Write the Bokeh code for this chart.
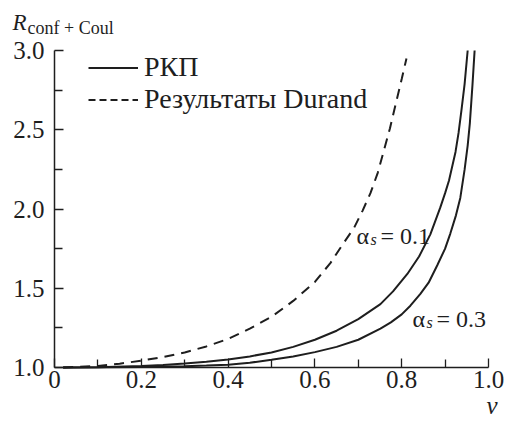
import numpy as np
from bokeh.plotting import figure
from bokeh.models import Range1d, Label, Legend, LegendItem, FixedTicker, CustomJSTickFormatter
from bokeh.embed import file_html
from bokeh.resources import INLINE

# Data
v_durand = [0.02, 0.1, 0.15, 0.2, 0.25, 0.3, 0.35, 0.4, 0.45, 0.5, 0.55, 0.6, 0.636, 0.66, 0.69,
            0.71, 0.728, 0.745, 0.759, 0.773, 0.786, 0.8, 0.811]
r_durand = [1.0, 1.01, 1.024, 1.043, 1.066, 1.095, 1.133, 1.18, 1.245, 1.32, 1.42, 1.54, 1.66, 1.76, 1.88,
            1.99, 2.10, 2.23, 2.37, 2.51, 2.66, 2.82, 2.95]

v_a01 = [0.02, 0.1, 0.2, 0.25, 0.3, 0.35, 0.4, 0.45, 0.5, 0.55, 0.6, 0.65, 0.7, 0.751, 0.78, 0.813,
         0.84, 0.866, 0.889, 0.9, 0.909, 0.924, 0.931, 0.938, 0.945, 0.952]
r_a01 = [1.0, 1.002, 1.009, 1.016, 1.025, 1.036, 1.05, 1.07, 1.095, 1.13, 1.175, 1.232, 1.305, 1.40, 1.48, 1.59,
         1.70, 1.84, 2.01, 2.10, 2.18, 2.36, 2.48, 2.63, 2.79, 3.0]

v_a03 = [0.02, 0.1, 0.2, 0.3, 0.35, 0.4, 0.45, 0.5, 0.55, 0.6, 0.65, 0.7, 0.751, 0.775, 0.8, 0.82,
         0.843, 0.862, 0.882, 0.9, 0.912, 0.925, 0.935, 0.945, 0.952, 0.957, 0.963, 0.968]
r_a03 = [1.0, 1.001, 1.003, 1.008, 1.012, 1.018, 1.03, 1.049, 1.07, 1.097, 1.13, 1.175, 1.245, 1.285, 1.335, 1.39,
         1.465, 1.535, 1.645, 1.75, 1.845, 1.96, 2.07, 2.25, 2.40, 2.54, 2.78, 3.0]

x_ticks = [0, 0.2, 0.4, 0.6, 0.8, 1.0]
x_minor = [0.1, 0.3, 0.5, 0.7, 0.9]
y_ticks = [1.0, 1.5, 2.0, 2.5, 3.0]
y_minor = [1.25, 1.75, 2.25, 2.75]

FONT = "Liberation Serif"
INK = "#1e1e1e"

# canvas geometry (pixels)
W, H = 513, 421
X0, X1 = 54, 488      # pixel of v = 0 and v = 1
Y1, Y3 = 367, 50      # pixel of R = 1 and R = 3
sx = (X1 - X0) / 1.0
sy = (Y1 - Y3) / 2.0

p = figure(width=W, height=H,
           x_range=Range1d(-X0 / sx, (W - X0) / sx),
           y_range=Range1d(1 - (H - Y1) / sy, 1 + Y1 / sy),
           output_backend="svg", toolbar_location=None,
           min_border=0, min_border_left=0, min_border_right=0,
           min_border_top=0, min_border_bottom=0)
p.xgrid.grid_line_color = None
p.ygrid.grid_line_color = None
p.outline_line_color = None
p.background_fill_color = "white"
p.border_fill_color = "white"

xa, ya = p.xaxis[0], p.yaxis[0]
xa.fixed_location = 1.0
ya.fixed_location = 0.0
xa.bounds = (0, 1.0)
ya.bounds = (1.0, 3.0)
for ax, ticks, minor in ((xa, x_ticks, x_minor), (ya, y_ticks, y_minor)):
    ax.ticker = FixedTicker(ticks=ticks, minor_ticks=minor)
    ax.axis_line_color = INK
    ax.axis_line_width = 1.5
    ax.major_tick_in = 9
    ax.major_tick_out = 0
    ax.minor_tick_in = 8
    ax.minor_tick_out = 0
    ax.major_tick_line_color = INK
    ax.minor_tick_line_color = INK
    ax.major_tick_line_width = 1.3
    ax.minor_tick_line_width = 1.3
    ax.major_label_text_font = FONT
    ax.major_label_text_font_size = "25px"
    ax.major_label_text_color = INK

xa.formatter = CustomJSTickFormatter(code="return tick == 0 ? '0' : tick.toFixed(1);")
ya.formatter = CustomJSTickFormatter(code="return tick.toFixed(1);")
xa.major_label_standoff = 3
ya.major_label_standoff = 10

r1 = p.line(v_a01, r_a01, line_color=INK, line_width=2)
r2 = p.line(v_a03, r_a03, line_color=INK, line_width=2)
r3 = p.line(v_durand, r_durand, line_color=INK, line_width=2, line_dash="10 7")
# legend swatches (a single NaN point: nothing drawn in the plot)
leg_solid = p.line(np.array([np.nan]), np.array([np.nan]), line_color=INK, line_width=2)
leg_dash = p.line(np.array([np.nan]), np.array([np.nan]), line_color=INK, line_width=2, line_dash="7 4")

legend = Legend(items=[LegendItem(label="РКП", renderers=[leg_solid]),
                       LegendItem(label="Результаты Durand", renderers=[leg_dash])],
                location=(88, H - 115), orientation="vertical")
legend.border_line_color = None
legend.background_fill_alpha = 0
legend.margin = 0
legend.padding = 0
legend.spacing = 0
legend.glyph_width = 50
legend.label_height = 29
legend.glyph_height = 29
legend.label_standoff = 6
legend.label_text_font = FONT
legend.label_text_font_size = "28px"
legend.label_text_color = INK
p.add_layout(legend)


def vx(px):
    return (px - X0) / sx


def ry(py):
    return 1 + (Y1 - py) / sy


def add(text, px, py, size, style="normal", align="left"):
    p.add_layout(Label(x=vx(px), y=ry(py), text=text, text_font=FONT, text_font_size=size,
                       text_font_style=style, text_align=align, text_baseline="alphabetic",
                       text_color=INK))


# y-axis title (pixels)
add("R", 12, 22, "23px", "italic")
add("conf + Coul", 27, 27, "18px")
# x-axis title
add("v", 497, 405, "25px", "italic", "right")
# alpha labels
add("α", 356, 235, "24px")
add("s", 370, 239, "16px", "italic")
add("= 0.1", 380, 235, "24px")
add("α", 412, 318, "24px")
add("s", 426, 322, "16px", "italic")
add("= 0.3", 436, 318, "24px")

open("out.html", "w").write(file_html(p, INLINE))
